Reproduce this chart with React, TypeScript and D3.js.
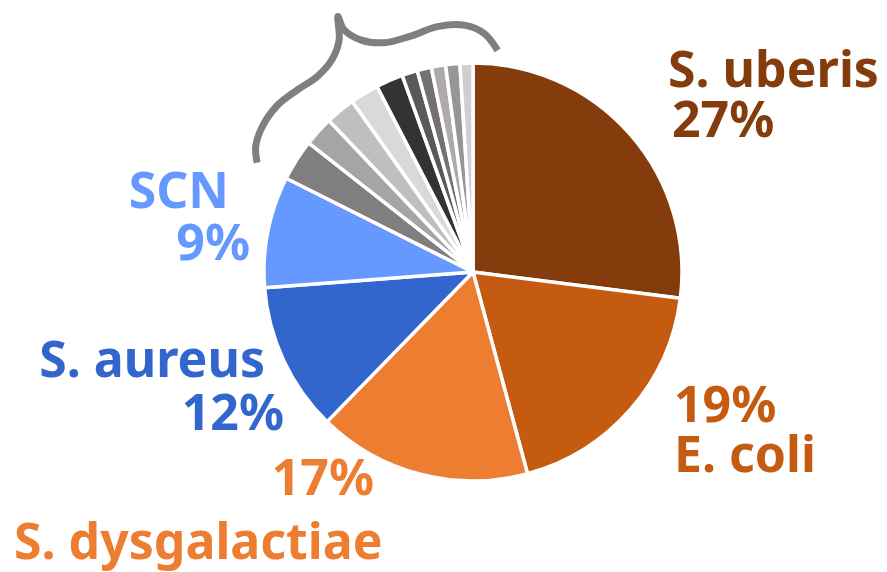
import { useEffect, useRef } from 'react';
import * as d3 from 'd3';

// pathogen shares (%), clockwise from 12 o'clock
const names = [
  'S. uberis', 'E. coli', 'S. dysgalactiae', 'S. aureus', 'SCN',
  'Other 1', 'Other 2', 'Other 3', 'Other 4', 'Other 5',
  'Other 6', 'Other 7', 'Other 8', 'Other 9', 'Other 10',
];
const values = [27.0, 18.8, 16.5, 11.5, 8.6, 3.2, 2.3, 2.3, 2.2, 2.1, 1.2, 1.1, 1.1, 1.1, 1.0];
const colors = [
  '#843c0c', '#c55a11', '#ed7d31', '#3366cc', '#6699ff',
  '#7f7f7f', '#a5a5a5', '#bfbfbf', '#d9d9d9', '#333333',
  '#595959', '#767171', '#aeaaaa', '#969696', '#d0cece',
];
const pctLabels = ['27%', '19%', '17%', '12%', '9%'];

// label placement: [nameX, nameY, nameAnchor, pctX, pctY, pctAnchor]
const labelPos = [
  [668, 87, 'start', 672, 137, 'start'],
  [674, 472, 'start', 674, 422, 'start'],
  [14, 559, 'start', 374, 495, 'end'],
  [265, 377, 'end', 284, 430, 'end'],
  [229, 208, 'end', 250, 260, 'end'],
];

// brace around the small slices: [angle offset in deg from first grey slice, radius]
const braceProfile = [
  [0.2, 242], [3.4, 251], [8, 256], [13.6, 257], [19.4, 253], [24.8, 250],
  [29.8, 255], [33.4, 268], [35.5, 289], [35.3, 275], [37.5, 258], [42.1, 246],
  [48.5, 244], [55.1, 248], [61.3, 247], [66, 239], [69.7, 223],
];

export default function App() {
  const ref = useRef<SVGSVGElement>(null);
  useEffect(() => {
    const svg = d3.select(ref.current);
    svg.selectAll('*').remove();
    const cx = 473, cy = 272, r = 209;
    const g = svg.append('g').attr('transform', `translate(${cx},${cy})`);
    const pie = d3.pie<number>().sort(null).value(d => d);
    const arcs = pie(values);
    const arc = d3.arc<d3.PieArcDatum<number>>().innerRadius(0).outerRadius(r);
    g.selectAll('path.slice').data(arcs).enter().append('path')
      .attr('class', 'slice')
      .attr('d', arc)
      .attr('fill', (_, i) => colors[i])
      .attr('stroke', '#fff').attr('stroke-width', 3.5).attr('stroke-linejoin', 'round');

    const start = arcs[5].startAngle;
    const brace = d3.lineRadial<number[]>()
      .angle(d => start + (d[0] * Math.PI) / 180)
      .radius(d => d[1])
      .curve(d3.curveCatmullRom);
    g.append('path').attr('d', brace(braceProfile))
      .attr('fill', 'none').attr('stroke', '#7f7f7f').attr('stroke-width', 7)
      .attr('stroke-linejoin', 'round');

    const font = "'Noto Sans', 'Open Sans', sans-serif";
    pctLabels.forEach((p, i) => {
      const [nx, ny, na, px, py, pa] = labelPos[i] as [number, number, string, number, number, string];
      svg.append('text').attr('x', nx).attr('y', ny).attr('text-anchor', na)
        .attr('fill', colors[i]).style('font-family', font).style('font-weight', 700)
        .style('font-size', '50px').text(names[i]);
      svg.append('text').attr('x', px).attr('y', py).attr('text-anchor', pa)
        .attr('fill', colors[i]).style('font-family', font).style('font-weight', 700)
        .style('font-size', '50px').text(p);
    });
  }, []);
  return (
    <>
      <style>{'body{margin:0}'}</style>
      <svg ref={ref} width={887} height={572} style={{ display: 'block', background: '#fff' }} />
    </>
  );
}
